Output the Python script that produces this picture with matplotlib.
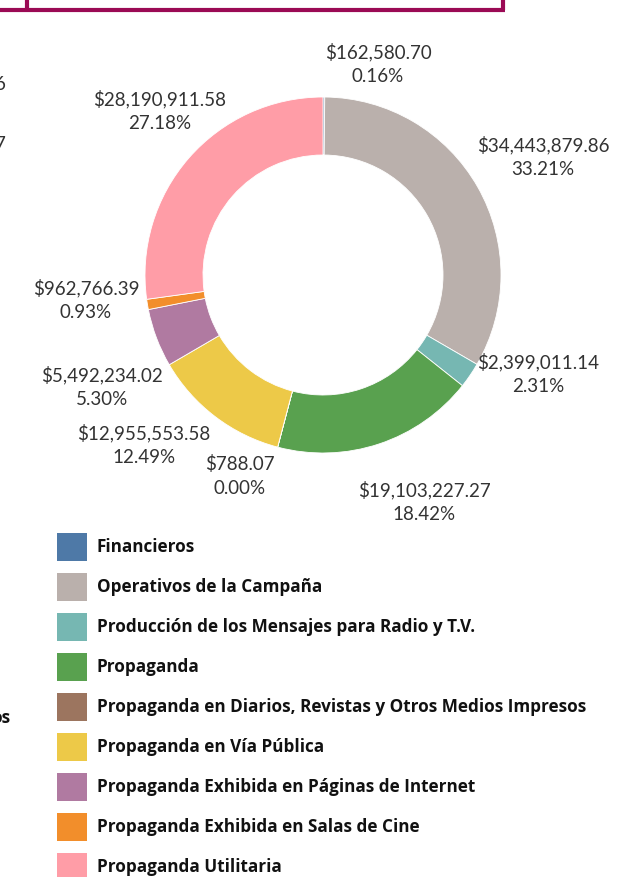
import matplotlib
matplotlib.use("Agg")
import matplotlib.pyplot as plt
from matplotlib.patches import Rectangle

# Datos (orden de las porciones en sentido horario desde arriba)
categorias = [
    "Financieros",
    "Operativos de la Campaña",
    "Producción de los Mensajes para Radio y T.V.",
    "Propaganda",
    "Propaganda en Diarios, Revistas y Otros Medios Impresos",
    "Propaganda en Vía Pública",
    "Propaganda Exhibida en Páginas de Internet",
    "Propaganda Exhibida en Salas de Cine",
    "Propaganda Utilitaria",
]
montos = [162580.70, 34443879.86, 2399011.14, 19103227.27, 788.07,
          12955553.58, 5492234.02, 962766.39, 28190911.58]
colores = ["#4e79a7", "#bab0ac", "#76b7b2", "#59a14f", "#9c755f",
           "#edc948", "#b07aa1", "#f28e2b", "#ff9da7"]

# posiciones de las etiquetas (pixeles)
pos_etiquetas = [(378, 64), (543, 157), (538, 374), (424, 502), (240, 476),
                 (144, 445), (102, 387), (86, 300), (160, 111)]

W, H = 634, 877
fig = plt.figure(figsize=(W / 100, H / 100), dpi=100)
ax = fig.add_axes([0, 0, 1, 1])

total = sum(montos)
ax.pie(montos, colors=colores, center=(323, 275), radius=178,
       startangle=-90, counterclock=True,
       wedgeprops=dict(width=58, edgecolor="white", linewidth=0.6))

ax.set_xlim(0, W)
ax.set_ylim(H, 0)
ax.set_aspect("auto")
ax.axis("off")

for m, (x, y) in zip(montos, pos_etiquetas):
    ax.text(x, y, f"${m:,.2f}\n{100 * m / total:.2f}%", ha="center", va="center",
            fontsize=13.5, color="#333333", family="Lato", linespacing=1.45)

# leyenda
for i, (c, col) in enumerate(zip(categorias, colores)):
    yc = 547 + 40 * i
    ax.add_patch(Rectangle((57, yc - 14), 30, 28, facecolor=col, edgecolor="none"))
    ax.text(97, yc, c, ha="left", va="center", fontsize=12.3, fontweight="bold",
            color="#111111", family="Open Sans")

# marco superior (recortado)
marco = "#9b0a55"
ax.plot([0, 505], [10, 10], color=marco, lw=3, solid_capstyle="butt")
ax.plot([27, 27], [0, 10], color=marco, lw=3, solid_capstyle="butt")
ax.plot([503, 503], [0, 10], color=marco, lw=3, solid_capstyle="butt")

# textos recortados de la vista vecina
ax.text(6, 85, "6", ha="right", va="center", fontsize=13.5, color="#333333", family="Lato")
ax.text(6, 145, "7", ha="right", va="center", fontsize=13.5, color="#333333", family="Lato")
ax.text(10, 718, "os", ha="right", va="center", fontsize=12.3, fontweight="bold",
        color="#111111", family="Open Sans")

fig.savefig("out.png", dpi=100)
